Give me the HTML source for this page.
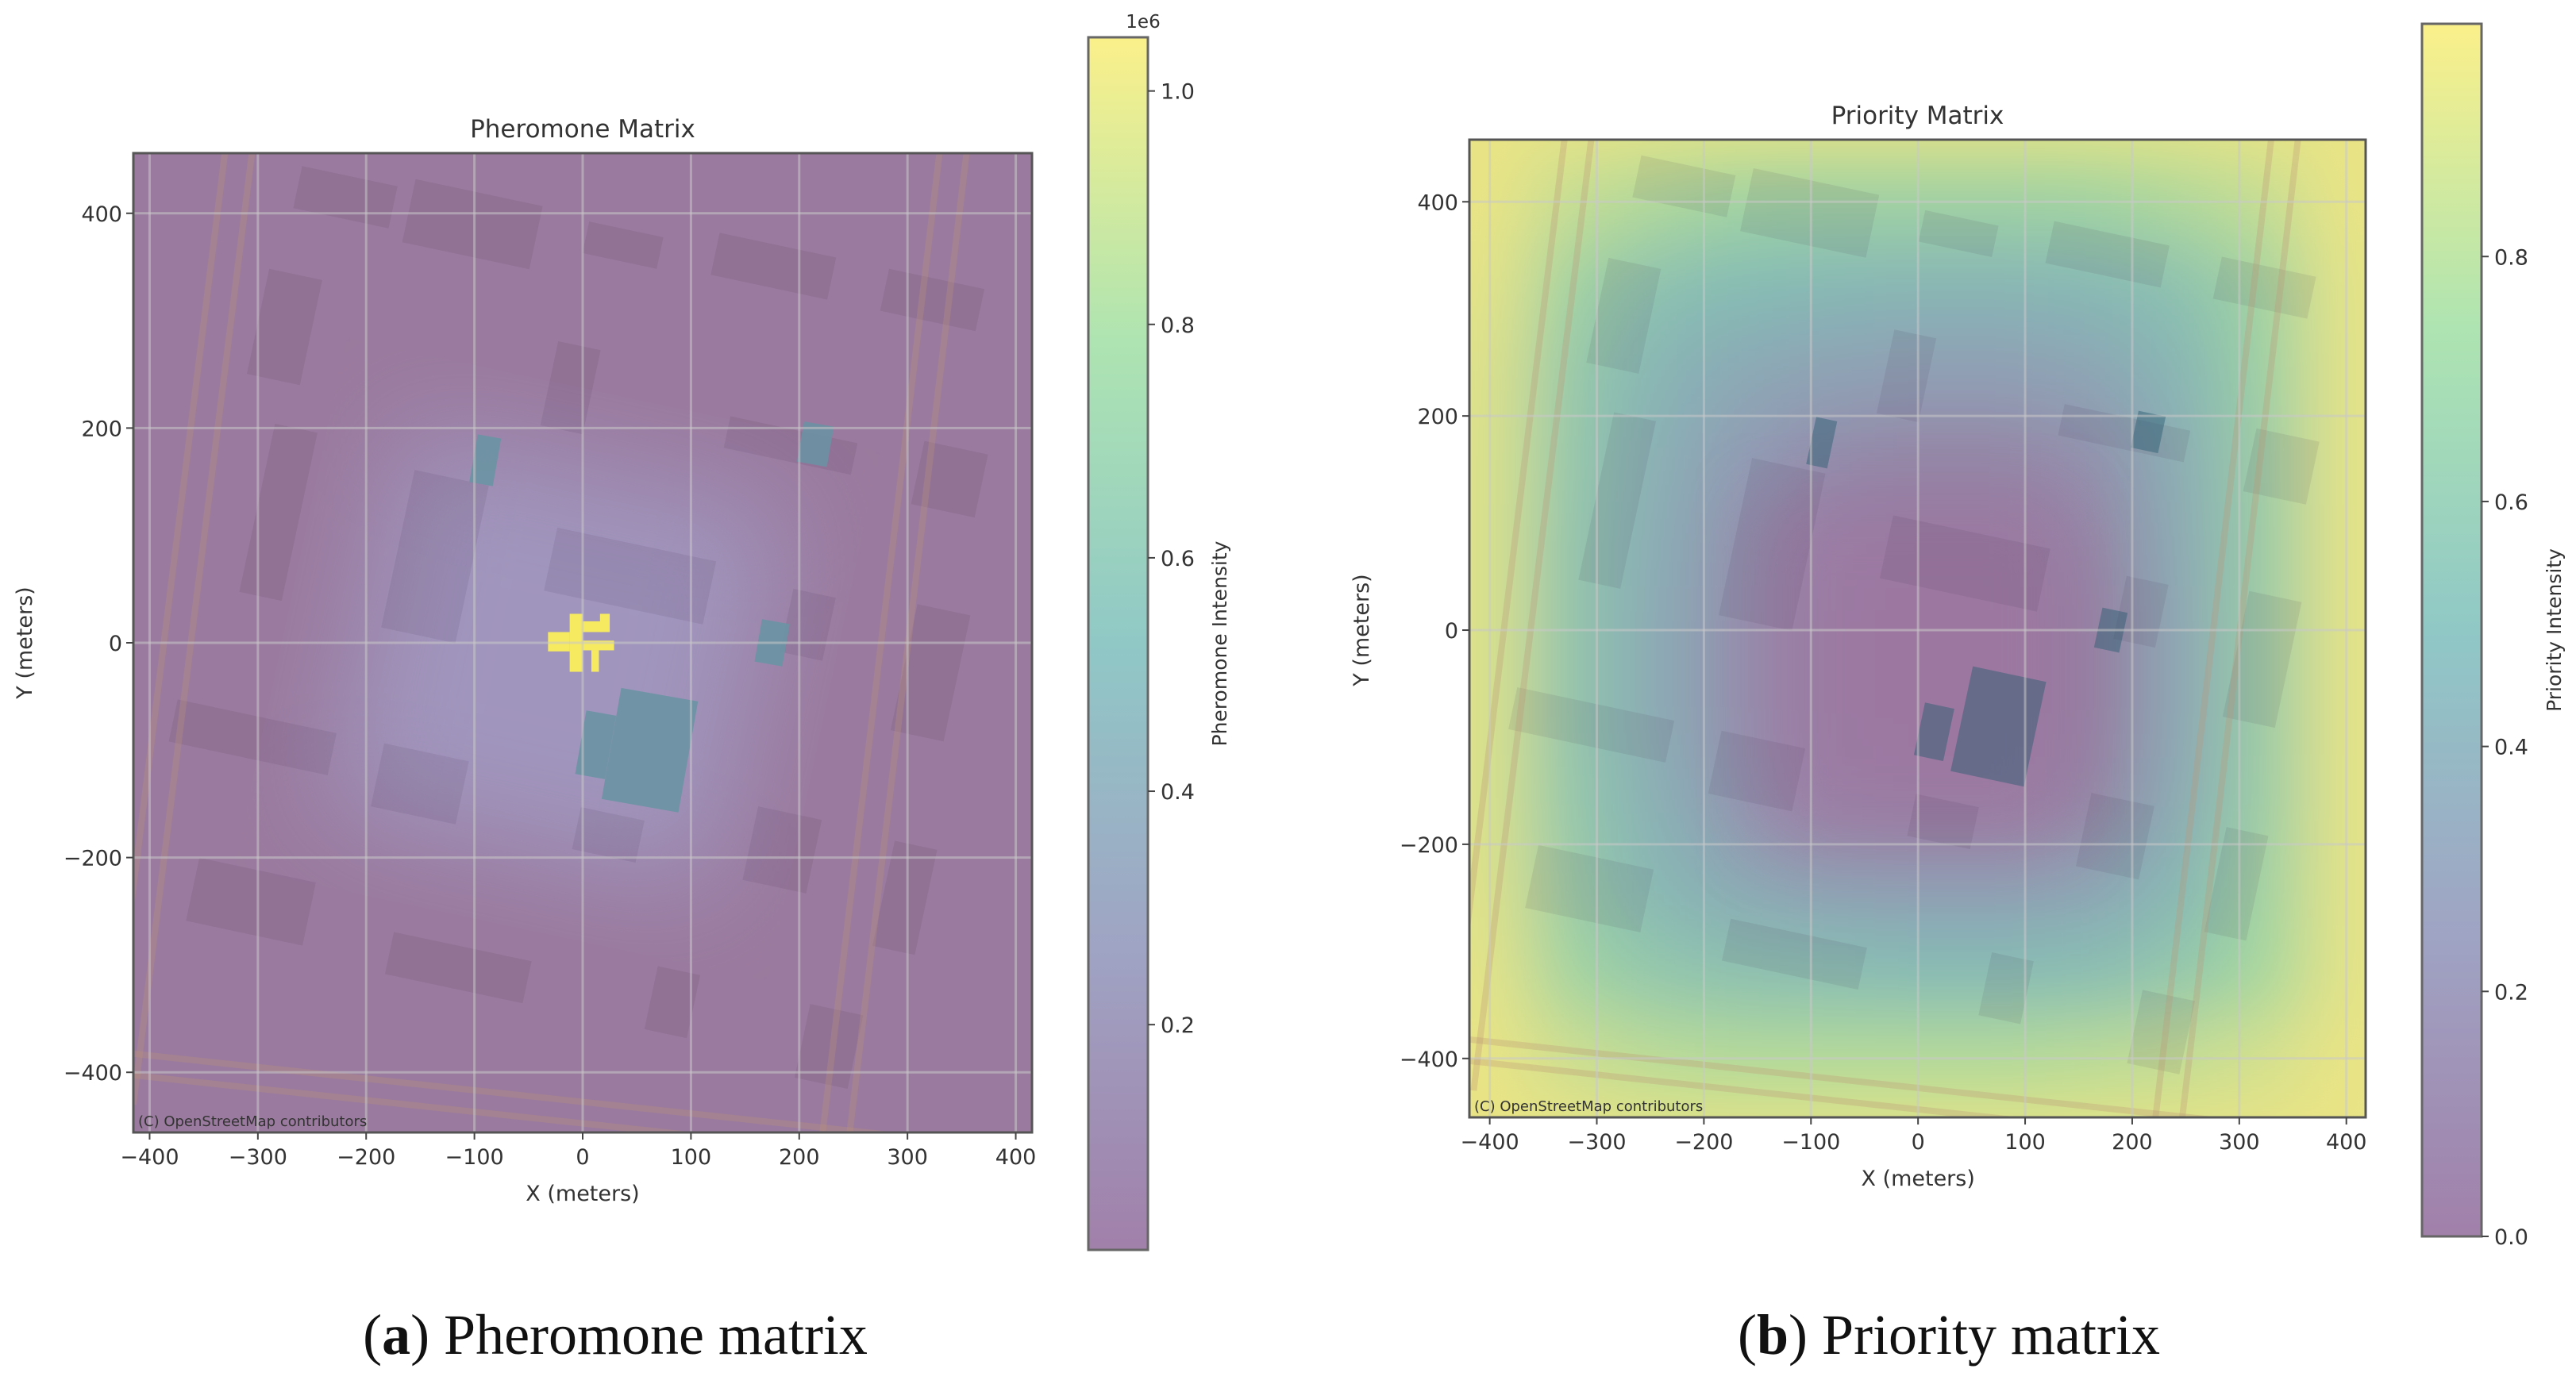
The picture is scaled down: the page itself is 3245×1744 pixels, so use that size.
<!DOCTYPE html>
<html><head><meta charset="utf-8"><style>
html,body{margin:0;padding:0;background:#fff;}
svg{display:block;}
text{font-family:"DejaVu Sans","Liberation Sans",sans-serif;fill:#333;}
.cap{font-family:"Liberation Serif",serif;fill:#111;}
</style></head><body>
<svg id="root" width="3245" height="1744" viewBox="0 0 3245 1744" xmlns="http://www.w3.org/2000/svg">
<defs>
<filter id="blur1" x="-20%" y="-20%" width="140%" height="140%"><feGaussianBlur stdDeviation="45"/></filter>
<filter id="blurG" x="-20%" y="-20%" width="140%" height="140%"><feGaussianBlur stdDeviation="70"/></filter>
<clipPath id="clipA"><rect x="168" y="193" width="1132" height="1234"/></clipPath>
<clipPath id="clipB"><rect x="1851" y="176" width="1129" height="1232"/></clipPath>
<linearGradient id="cbgrad" x1="0" y1="1" x2="0" y2="0">
<stop offset="0" stop-color="#a180aa"/><stop offset="0.25" stop-color="#9fa4c4"/>
<stop offset="0.5" stop-color="#90c8c6"/><stop offset="0.75" stop-color="#aee4b1"/>
<stop offset="1" stop-color="#fbf08a"/></linearGradient>
</defs>
<g id="panelA"></g>
<g id="panelB"></g>
<text class="cap" x="775" y="1706" font-size="72" text-anchor="middle">(<tspan font-weight="bold">a</tspan>) Pheromone matrix</text>
<text class="cap" x="2455" y="1706" font-size="72" text-anchor="middle">(<tspan font-weight="bold">b</tspan>) Priority matrix</text>
</svg>
<script>
// ---- data ----
const xTicks = [-400,-300,-200,-100,0,100,200,300,400];
const yTicks = [-400,-200,0,200,400];
const pherTicks = [0.2,0.4,0.6,0.8,1.0];
const prioTicks = [0.0,0.2,0.4,0.6,0.8];
// priority grid (rows y=400..-400 step 80, cols x=-400..400 step 80)
const prioGridX = [-400,-320,-240,-160,-80,0,80,160,240,320,400];
const prioGridY = [400,320,240,160,80,0,-80,-160,-240,-320,-400];
const prioValues = [
[.97,.85,.78,.72,.7,.7,.7,.72,.78,.85,.97],
[.95,.7,.55,.5,.48,.46,.46,.48,.55,.72,.95],
[.93,.62,.45,.35,.3,.28,.28,.32,.45,.68,.95],
[.92,.6,.4,.25,.15,.12,.12,.18,.38,.66,.95],
[.92,.58,.38,.2,.06,.03,.03,.1,.35,.65,.95],
[.92,.58,.36,.18,.04,.02,.02,.06,.33,.65,.95],
[.92,.58,.36,.18,.04,.02,.02,.06,.33,.65,.95],
[.92,.6,.4,.22,.08,.04,.04,.1,.36,.66,.95],
[.93,.64,.46,.36,.3,.28,.28,.32,.46,.7,.95],
[.95,.72,.6,.55,.52,.5,.5,.52,.6,.75,.95],
[.97,.88,.82,.8,.8,.8,.8,.82,.85,.9,.97]];
// pheromone hotspots: x, y, w, h (meters), value (1e6)
const pherX = [-90, 215, 175, 62, 12];
const pherY = [170, 185, 0, -100, -95];
const pherW = [22, 28, 26, 72, 28];
const pherH = [45, 38, 40, 105, 60];
const pherV = [0.5, 0.45, 0.5, 0.5, 0.5];
// buildings (map) x,y,w,h meters (pre-rotation)
const bldX = [-300,-180,-40,100,250,-330,-60,150,300,-300,-150,30,200,320,-280,-120,60,220,340,-250,-50,150,300];
const bldY = [360,360,370,380,380,230,230,220,220,60,50,70,60,40,-150,-160,-170,-150,-170,-300,-320,-310,-320];
const bldW = [90,120,70,110,90,50,40,120,60,40,70,150,40,50,150,80,60,60,40,110,130,40,50];
const bldH = [40,60,30,40,40,100,80,30,60,160,150,60,60,120,40,60,40,70,100,60,40,60,70];

const NS='http://www.w3.org/2000/svg';
function el(tag,attrs,parent){const e=document.createElementNS(NS,tag);for(const k in attrs)e.setAttribute(k,attrs[k]);parent.appendChild(e);return e;}

const vir=[[0,[68,1,84]],[0.25,[59,82,139]],[0.5,[33,145,140]],[0.75,[94,201,98]],[1,[253,231,37]]];
function viridis(v){v=Math.max(0,Math.min(1,v));for(let i=1;i<vir.length;i++){if(v<=vir[i][0]){const a=vir[i-1],b=vir[i];const t=(v-a[0])/(b[0]-a[0]);return a[1].map((c,j)=>c+(b[1][j]-c)*t);}}return vir[4][1];}
function blend(v){const c=viridis(v);const bg=[232,228,222];return 'rgb('+c.map((x,i)=>Math.round(x*0.5+bg[i]*0.5)).join(',')+')';}

function makePanel(g,cfg){
  const sx=x=>cfg.x0+(x-cfg.xmin)/(cfg.xmax-cfg.xmin)*cfg.w;
  const sy=y=>cfg.y0+(cfg.ymax-y)/(cfg.ymax-cfg.ymin)*cfg.h;
  const plot=el('g',{'clip-path':'url(#'+cfg.clip+')'},g);
  
  
  cfg.field(plot,sx,sy);
  const cx=sx(0),cy=sy(0);
  const bg=el('g',{transform:'rotate(12 '+cx+' '+cy+')'},plot);
  
  
  for(let i=0;i<bldX.length;i++){
    const r=el('rect',{x:sx(bldX[i]-bldW[i]/2),y:sy(bldY[i]+bldH[i]/2),width:sx(bldW[i])-sx(0),height:sy(0)-sy(bldH[i]),fill:'rgba(60,30,70,0.09)'},bg);
    
    
  }
  [[-440,-430,-330,460],[-415,-430,-305,460],[220,-470,330,460],[245,-470,355,460],[-440,-380,300,-460],[-440,-400,300,-480]].forEach(r=>{
    const l=el('line',{x1:sx(r[0]),y1:sy(r[1]),x2:sx(r[2]),y2:sy(r[3]),stroke:'rgba(190,150,120,0.3)','stroke-width':8},plot);
    
    
  });
  cfg.overlay&&cfg.overlay(plot,sx,sy);
  xTicks.forEach(t=>{const l=el('line',{x1:sx(t),x2:sx(t),y1:cfg.y0,y2:cfg.y0+cfg.h,stroke:'rgba(200,200,200,0.55)','stroke-width':3},plot);
    });
  yTicks.forEach(t=>{const l=el('line',{y1:sy(t),y2:sy(t),x1:cfg.x0,x2:cfg.x0+cfg.w,stroke:'rgba(200,200,200,0.55)','stroke-width':3},plot);
    });
  const at=el('text',{x:cfg.x0+6,y:cfg.y0+cfg.h-8,'font-size':18,fill:'#6a5a70'},plot);at.textContent='(C) OpenStreetMap contributors';
  
  const fr=el('rect',{x:cfg.x0,y:cfg.y0,width:cfg.w,height:cfg.h,fill:'none',stroke:'#555','stroke-width':3},g);
  
  xTicks.forEach(t=>{el('line',{x1:sx(t),x2:sx(t),y1:cfg.y0+cfg.h,y2:cfg.y0+cfg.h+9,stroke:'#444','stroke-width':2},g);
    const tx=el('text',{x:sx(t),y:cfg.y0+cfg.h+40,'font-size':27,'text-anchor':'middle'},g);tx.textContent=String(t).replace('-','\u2212');
    });
  yTicks.forEach(t=>{el('line',{y1:sy(t),y2:sy(t),x1:cfg.x0-9,x2:cfg.x0,stroke:'#444','stroke-width':2},g);
    const tx=el('text',{x:cfg.x0-14,y:sy(t)+10,'font-size':27,'text-anchor':'end'},g);tx.textContent=String(t).replace('-','\u2212');
    });
  const ti=el('text',{x:cfg.x0+cfg.w/2,y:cfg.y0-20,'font-size':31,'text-anchor':'middle'},g);ti.textContent=cfg.title;
  
  const xl=el('text',{x:sx(0),y:cfg.y0+cfg.h+86,'font-size':27,'text-anchor':'middle'},g);xl.textContent='X (meters)';
  
  const yx=cfg.ylabx, yy=sy(0);
  const yl=el('text',{x:yx,y:yy,'font-size':27,'text-anchor':'middle',transform:'rotate(-90 '+yx+' '+yy+')'},g);yl.textContent='Y (meters)';
  
  const cb=cfg.cb;
  const cs=v=>cb.y0+(cb.vmax-v)/(cb.vmax-cb.vmin)*cb.h;
  const cr=el('rect',{x:cb.x0,y:cb.y0,width:cb.w,height:cb.h,fill:'url(#cbgrad)',stroke:'#666','stroke-width':3},g);
  
  cb.ticks.forEach(t=>{el('line',{x1:cb.x0+cb.w,x2:cb.x0+cb.w+9,y1:cs(t),y2:cs(t),stroke:'#444','stroke-width':2},g);
    const tx=el('text',{x:cb.x0+cb.w+16,y:cs(t)+10,'font-size':27},g);tx.textContent=t.toFixed(1);
    });
  const lx=cb.labx,ly=cb.y0+cb.h/2;
  const cl=el('text',{x:lx,y:ly,'font-size':25,'text-anchor':'middle',transform:'rotate(-90 '+lx+' '+ly+')'},g);cl.textContent=cb.label;
  
  if(cb.exp){const e=el('text',{x:cb.x0+cb.w-6,y:cb.y0-12,'font-size':23,'text-anchor':'middle'},g);e.textContent=cb.exp;
    }
}

makePanel(document.getElementById('panelA'),{
  x0:168,y0:193,w:1132,h:1234,xmin:-415,xmax:415,ymin:-456,ymax:456,clip:'clipA',title:'Pheromone Matrix',ylabx:40,
  field:(p,sx,sy)=>{
    el('rect',{x:100,y:100,width:1300,height:1400,fill:'#9a7a9e'},p);
    const gl=el('rect',{x:sx(-200),y:sy(160),width:sx(360)-sx(0),height:sy(0)-sy(360),fill:'#a095bd',filter:'url(#blurG)',transform:'rotate(12 '+sx(0)+' '+sy(0)+')'},p);
    
  },
  overlay:(p,sx,sy)=>{
    for(let i=0;i<pherX.length;i++){
      const r=el('rect',{x:sx(pherX[i]-pherW[i]/2),y:sy(pherY[i]+pherH[i]/2),width:sx(pherW[i])-sx(0),height:sy(0)-sy(pherH[i]),fill:'#6a93a3',opacity:0.4+pherV[i],transform:'rotate(10 '+sx(pherX[i])+' '+sy(pherY[i])+')'},p);
      
    }
    const c=el('g',{fill:'#f6ea60'},p);
    
    // x0,y0,x1,y1 in meters
    [[-32,-8,-12,10],[-12,-27,0,27],[0,10,18,20],[16,10,25,27],[0,-7,29,2],[8,-27,15,-7]].forEach(b=>{
      el('rect',{x:sx(b[0]),y:sy(b[3]),width:sx(b[2])-sx(b[0]),height:sy(b[1])-sy(b[3])},c);
    });
  },
  cb:{x0:1371,y0:47,w:75,h:1528,vmin:0.007,vmax:1.046,ticks:pherTicks,labx:1545,label:'Pheromone Intensity',exp:'1e6'}
});

makePanel(document.getElementById('panelB'),{
  x0:1851,y0:176,w:1129,h:1232,xmin:-419,xmax:418,ymin:-455,ymax:458,clip:'clipB',title:'Priority Matrix',ylabx:1724,
  field:(p,sx,sy)=>{
    el('rect',{x:1700,y:50,width:1400,height:1500,fill:blend(0.97)},p);
    const hg=el('g',{filter:'url(#blur1)'},p);
    
    for(let r=0;r<prioGridY.length;r++)for(let c=0;c<prioGridX.length;c++){
      const cell=el('rect',{x:sx(prioGridX[c]-40)-1,y:sy(prioGridY[r]+40)-1,width:sx(80)-sx(0)+2,height:sy(0)-sy(80)+2,fill:blend(prioValues[r][c])},hg);
      
      
    }
    const pk=el('rect',{x:sx(-150),y:sy(120),width:sx(290)-sx(0),height:sy(0)-sy(320),fill:'#a27aa6',opacity:0.5,filter:'url(#blur1)'},p);
    
  },
  overlay:(p,sx,sy)=>{
    [[75,-90,70,100],[15,-95,28,50],[-90,175,20,45],[215,185,26,35],[180,0,24,38]].forEach(b=>{
      const r=el('rect',{x:sx(b[0]-b[2]/2),y:sy(b[1]+b[3]/2),width:sx(b[2])-sx(0),height:sy(0)-sy(b[3]),fill:'rgba(40,90,110,0.45)',transform:'rotate(12 '+sx(b[0])+' '+sy(b[1])+')'},p);
      
    });
  },
  cb:{x0:3051,y0:30,w:75,h:1528,vmin:0,vmax:0.99,ticks:prioTicks,labx:3226,label:'Priority Intensity'}
});
</script>
</body></html>
